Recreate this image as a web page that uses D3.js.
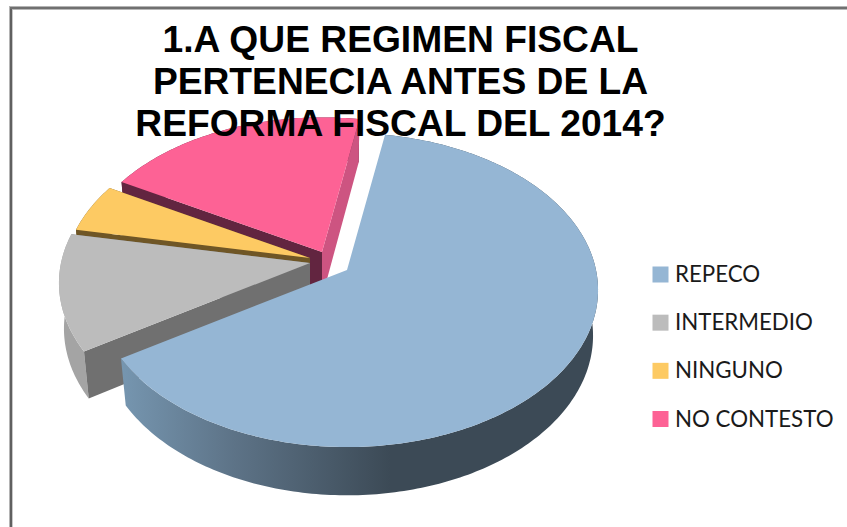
<!DOCTYPE html>
<html>
<head>
<meta charset="utf-8">
<script src="https://cdn.jsdelivr.net/npm/d3@7"></script>
<style>
  html, body { margin: 0; padding: 0; background: #fff; overflow: hidden; }
  svg { display: block; }
</style>
</head>
<body>
<svg id="chart" width="847" height="527"></svg>
<script>
// Survey answers, as percentages of respondents
const categories = ["REPECO", "INTERMEDIO", "NINGUNO", "NO CONTESTO"];
const shares = [63.3, 12.0, 5.1, 19.6];
const titleLines = ["1.A QUE REGIMEN FISCAL", "PERTENECIA ANTES DE LA", "REFORMA FISCAL DEL 2014?"];

// Slice colours: top face, cut walls, outer rim (REPECO's cut walls face away from the viewer)
const topColors = ["#95b6d4", "#bcbcbc", "#fdca63", "#fd6295"];
const startWallColors = ["none", "#707070", "#6f5626", "#622540"];
const endWallColors = ["none", "#707070", "#6f5626", "#cd5481"];
const rimColors = ["url(#rimBlue)", "#a4a4a4", "#6f5626", "#622540"];

// Pull-out of each slice from the pie centre in pixels, and its apparent size with distance
const pieCentre = [320, 260];
const pullX = [27, -10, -10, 2];
const pullY = [10, 3, -2, -8];
const sliceScale = [1, 1, 0.98, 0.98];

// Perspective camera for the tilted disc
const cam = { sx: 249, sy: 154.5, tilt: 0.1274, depth: 46.6, spread: 0.02 };
const firstAngle = 9.9 * Math.PI / 180;

const svg = d3.select("#chart");

const defs = svg.append("defs");
const rimGrad = defs.append("linearGradient")
  .attr("id", "rimBlue").attr("gradientUnits", "userSpaceOnUse")
  .attr("x1", 121).attr("x2", 390).attr("y1", 0).attr("y2", 0);
[[0, "#7696b0"], [0.42, "#5d7387"], [1, "#3c4a56"]].forEach(([o, c]) =>
  rimGrad.append("stop").attr("offset", o).attr("stop-color", c));

// Window frame along the top and left edges
const frame = svg.append("g");
[[9, 6, 1, 521, "#b4b4b4"], [10, 7, 2, 520, "#606060"], [12, 9, 1, 518, "#c8c8c8"]]
  .forEach(([x, y, w, h, c]) => frame.append("rect")
    .attr("x", x).attr("y", y).attr("width", w).attr("height", h).attr("fill", c));
[[9, 6, 838, 1, "#b4b4b4"], [10, 7, 837, 2, "#707070"], [12, 9, 835, 1, "#b8b8b8"]]
  .forEach(([x, y, w, h, c]) => frame.append("rect")
    .attr("x", x).attr("y", y).attr("width", w).attr("height", h).attr("fill", c));

const arcs = d3.pie().sort(null).startAngle(firstAngle).endAngle(firstAngle + 2 * Math.PI)(shares);

// Disc coordinates (radius 1) plus height z (0 top, 1 bottom) to screen pixels
function project(theta, r, z, i) {
  const s = r * sliceScale[i];
  const u = s * Math.sin(theta), v = -s * Math.cos(theta);
  const w = 1 - cam.tilt * v + cam.spread * z;
  return [
    pieCentre[0] + pullX[i] + cam.sx * u / w,
    pieCentre[1] + pullY[i] + (cam.sy * v + cam.depth * z) / w
  ];
}

const line = d3.line().curve(d3.curveLinear);
const closed = pts => line(pts) + "Z";

function rimEdge(a, z, i) {
  const n = Math.max(8, Math.ceil((a.endAngle - a.startAngle) * 60));
  return d3.range(n + 1).map(k =>
    project(a.startAngle + (a.endAngle - a.startAngle) * k / n, 1, z, i));
}

const pie = svg.append("g");

// Back slices first, so nearer ones overlap them: NO CONTESTO, NINGUNO, INTERMEDIO, REPECO
d3.range(arcs.length).reverse().forEach(i => {
  const a = arcs[i];
  const g = pie.append("g");
  const apexTop = project(0, 0, 0, i), apexBot = project(0, 0, 1, i);

  // Outer rim
  g.append("path").attr("fill", rimColors[i])
    .attr("d", closed(rimEdge(a, 0, i).concat(rimEdge(a, 1, i).reverse())));
  // Cut wall along the leading edge
  g.append("path").attr("fill", startWallColors[i])
    .attr("d", closed([apexTop, project(a.startAngle, 1, 0, i), project(a.startAngle, 1, 1, i), apexBot]));
  // Cut wall along the trailing edge
  g.append("path").attr("fill", endWallColors[i])
    .attr("d", closed([apexTop, project(a.endAngle, 1, 0, i), project(a.endAngle, 1, 1, i), apexBot]));
  // Top face
  g.append("path").attr("fill", topColors[i])
    .attr("d", closed([apexTop].concat(rimEdge(a, 0, i))));
});

// Title, drawn over the pie
const baselineY = d3.scalePoint().domain(d3.range(titleLines.length)).range([52, 136]);
svg.append("g").selectAll("text").data(titleLines).join("text")
  .attr("x", 400.5)
  .attr("y", (d, i) => baselineY(i))
  .attr("text-anchor", "middle")
  .attr("font-family", "'Liberation Sans', Arial, sans-serif")
  .attr("font-weight", "bold")
  .attr("font-size", 37.2)
  .attr("fill", "#000")
  .text(d => d);

// Legend
const legendY = d3.scalePoint().domain(categories).range([274.5, 419]);
const legend = svg.append("g").selectAll("g").data(categories).join("g")
  .attr("transform", d => `translate(0,${legendY(d)})`);
legend.append("rect")
  .attr("x", 652.5).attr("y", -8).attr("width", 16).attr("height", 16)
  .attr("fill", (d, i) => topColors[i]);
legend.append("text")
  .attr("x", 675).attr("y", 7.5)
  .attr("font-family", "Lato, 'Open Sans', sans-serif")
  .attr("font-size", 22.3)
  .attr("fill", "#1a1a1a")
  .text(d => d);
</script>
</body>
</html>
